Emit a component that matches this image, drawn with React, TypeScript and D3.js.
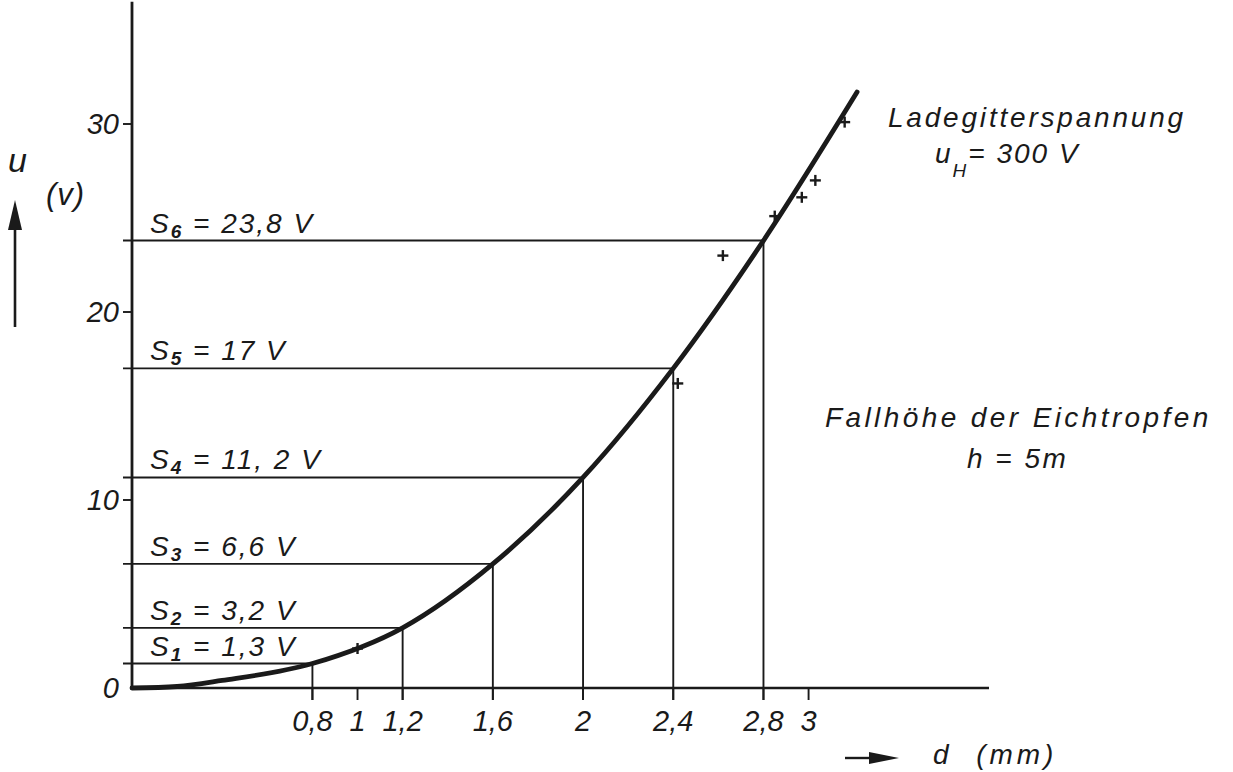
import React from "react";
import * as d3 from "d3";

// Curve u(d) (d in mm, u in V)
const curveD = [0, 0.2, 0.4, 0.8, 1.2, 1.6, 2.0, 2.4, 2.8, 3.215];
const curveU = [0, 0.08, 0.4, 1.3, 3.2, 6.6, 11.2, 17.0, 23.8, 31.7];

// Calibration steps S1..S6
const stepIds = ["1", "2", "3", "4", "5", "6"];
const stepD = [0.8, 1.2, 1.6, 2.0, 2.4, 2.8];
const stepU = [1.3, 3.2, 6.6, 11.2, 17.0, 23.8];
const stepText = ["1,3 V", "3,2 V", "6,6 V", "11, 2 V", "17 V", "23,8 V"];

// Measured points (crosses)
const measD = [1.0, 2.42, 2.62, 2.85, 2.97, 3.03, 3.16];
const measU = [2.1, 16.2, 23.0, 25.1, 26.1, 27.0, 30.1];

// Axis ticks
const xTicks = [0.8, 1, 1.2, 1.6, 2, 2.4, 2.8, 3];
const yTicks = [0, 10, 20, 30];

const W = 1233;
const H = 772;
const INK = "#1a1a1a";
const FONT = "'Liberation Sans', Arial, sans-serif";

const locale = d3.formatLocale({ decimal: ",", thousands: ".", grouping: [3], currency: ["", ""] });
const fmt = locale.format("~g");

export default function App() {
  const x = d3.scaleLinear().domain([0, 3.8]).range([132, 989]);
  const y = d3.scaleLinear().domain([0, 30]).range([688, 124]);
  const yTop = y(36.5);

  const pts: [number, number][] = curveD.map((d, i) => [d, curveU[i]]);
  const line = d3
    .line<[number, number]>()
    .x((p) => x(p[0]))
    .y((p) => y(p[1]))
    .curve(d3.curveMonotoneX);

  const tickLen = 12;
  const leftTick = 9;
  const thin = 1.9;

  const textStyle: React.CSSProperties = {
    fontFamily: FONT,
    fontStyle: "italic",
    fill: INK,
    whiteSpace: "pre",
  };

  return (
    <svg
      width={W}
      height={H}
      viewBox={`0 0 ${W} ${H}`}
      style={{ position: "absolute", left: 0, top: 0, background: "#fff" }}
    >
      <rect x={0} y={0} width={W} height={H} fill="#fff" />

      {/* Y axis */}
      <line x1={x(0)} x2={x(0)} y1={yTop} y2={y(0) + 2} stroke={INK} strokeWidth={2.8} />
      {/* X axis */}
      <line x1={x(0)} x2={x(3.8)} y1={y(0)} y2={y(0)} stroke={INK} strokeWidth={2.4} />

      {/* Y ticks */}
      {yTicks.map((t) => (
        <g key={"yt" + t}>
          {t !== 0 && (
            <line x1={x(0) - leftTick} x2={x(0)} y1={y(t)} y2={y(t)} stroke={INK} strokeWidth={thin} />
          )}
          <text
            x={x(0) - 13}
            y={y(t) + 10}
            textAnchor="end"
            fontSize={29}
            style={textStyle}
          >
            {fmt(t)}
          </text>
        </g>
      ))}

      {/* X ticks */}
      {xTicks.map((t) => (
        <g key={"xt" + t}>
          <line x1={x(t)} x2={x(t)} y1={y(0)} y2={y(0) + tickLen} stroke={INK} strokeWidth={thin} />
          <text x={x(t)} y={y(0) + 43} textAnchor="middle" fontSize={29} style={textStyle}>
            {fmt(t)}
          </text>
        </g>
      ))}

      {/* Step guide lines */}
      {stepD.map((d, i) => (
        <g key={"s" + i}>
          <line
            x1={x(0) - leftTick}
            x2={x(d)}
            y1={y(stepU[i])}
            y2={y(stepU[i])}
            stroke={INK}
            strokeWidth={thin}
          />
          <line
            x1={x(d)}
            x2={x(d)}
            y1={y(stepU[i])}
            y2={y(0) + tickLen}
            stroke={INK}
            strokeWidth={thin}
          />
          <text
            x={150}
            y={y(stepU[i]) - 8}
            fontSize={28}
            letterSpacing={2}
            style={textStyle}
          >
            <tspan>S</tspan>
            <tspan fontSize={19} fontWeight="bold" dy={5}>
              {stepIds[i]}
            </tspan>
            <tspan dy={-5}>{" = " + stepText[i]}</tspan>
          </text>
        </g>
      ))}

      {/* Main curve */}
      <path
        d={line(pts) || ""}
        fill="none"
        stroke={INK}
        strokeWidth={4.8}
        strokeLinecap="round"
      />

      {/* Measured crosses */}
      {measD.map((d, i) => (
        <g key={"m" + i} transform={`translate(${x(d)},${y(measU[i])})`}>
          <line x1={-5.5} x2={5.5} y1={0} y2={0} stroke={INK} strokeWidth={2.4} />
          <line x1={0} x2={0} y1={-5.5} y2={5.5} stroke={INK} strokeWidth={2.4} />
        </g>
      ))}

      {/* Y axis title with arrow */}
      <text x={8} y={172} fontSize={34} style={textStyle}>
        u
      </text>
      <text x={46} y={205} fontSize={31} letterSpacing={1} style={textStyle}>
        (v)
      </text>
      <line x1={15} x2={15} y1={327} y2={224} stroke={INK} strokeWidth={2.6} />
      <polygon points="15,200 8,230 22,230" fill={INK} />

      {/* X axis title with arrow */}
      <line x1={845} x2={874} y1={758} y2={758} stroke={INK} strokeWidth={2.4} />
      <polygon points="899,758 869,752 869,764" fill={INK} />
      <text x={933} y={764} fontSize={28} letterSpacing={4} style={textStyle}>
        {"d  (mm)"}
      </text>

      {/* Annotations */}
      <text x={888} y={127} fontSize={28} letterSpacing={2.8} style={textStyle}>
        Ladegitterspannung
      </text>
      <text x={935} y={163} fontSize={28} letterSpacing={2} style={textStyle}>
        <tspan>u</tspan>
        <tspan fontSize={19} dy={14}>
          H
        </tspan>
        <tspan dy={-14}>{"= 300 V"}</tspan>
      </text>

      <text x={825} y={427} fontSize={28} letterSpacing={3.4} style={textStyle}>
        {"Fallhöhe der Eichtropfen"}
      </text>
      <text x={967} y={468} fontSize={28} letterSpacing={2.5} style={textStyle}>
        {"h = 5m"}
      </text>
    </svg>
  );
}
